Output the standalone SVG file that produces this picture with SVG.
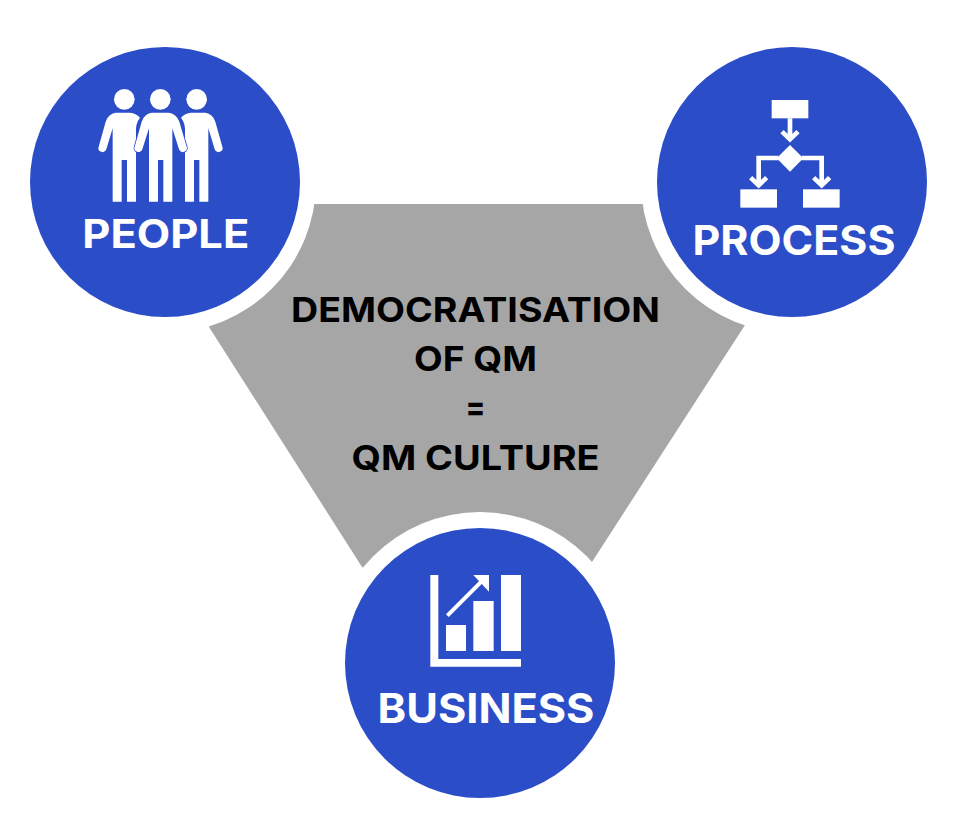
<svg xmlns="http://www.w3.org/2000/svg" width="963" height="820" viewBox="0 0 963 820">
<style>
.c{fill:#2b4dc8}
.r{fill:#fff}
.i{fill:#fff}
.s{fill:none;stroke:#fff}
text{font-family:Inter,"Liberation Sans",sans-serif;font-weight:700;text-anchor:middle;font-size:34.5px}
.l{fill:#fff;font-size:39px}
.b{font-size:41.5px}
.m{fill:#000}
</style>
<rect width="963" height="820" fill="#fff"/>
<g id="center">
<polygon points="250,204 705,204 745,325 592,562 480,640 362,567 209,327" fill="#a6a6a6"/>
<circle class="r" cx="165" cy="182" r="151"/>
<circle class="r" cx="792" cy="182" r="151"/>
<circle class="r" cx="480" cy="663" r="151"/>
<text class="m" x="475.500" y="321.700" textLength="369" lengthAdjust="spacingAndGlyphs">DEMOCRATISATION</text>
<text class="m" x="475.500" y="370.700" textLength="123" lengthAdjust="spacingAndGlyphs">OF QM</text>
<text class="m" x="475.500" y="418.500" textLength="20" lengthAdjust="spacingAndGlyphs">=</text>
<text class="m" x="475.500" y="469.500" textLength="248" lengthAdjust="spacingAndGlyphs">QM CULTURE</text>
</g>
<g id="people">
<circle class="c" cx="165" cy="182" r="135"/>
<g transform="translate(80 70) scale(.33333)">
<circle class="i" cx="133" cy="88" r="31"/><circle class="i" cx="241" cy="88" r="31"/><circle class="i" cx="350" cy="88" r="31"/>
<path id="side" class="i" d="M107 128H150Q168 130 180 143Q166 160 168 190V395H141V270H125V395H98V175L79 238a12 12 0 0 1-23-8L77 155Q84 132 107 128Z"/>
<use href="#side" transform="matrix(-1 0 0 1 483 0)"/>
<path class="i" stroke="#2b4dc8" stroke-width="5" paint-order="stroke" d="M215 128H267Q290 132 298 155L320 230a12 12 0 0 1-23 8L277 175V395H250V270H234V395H207V175L187 238a12 12 0 0 1-23-8L185 155Q192 132 215 128Z"/>
</g>
<text class="l" x="165.800" y="248" textLength="167" lengthAdjust="spacingAndGlyphs">PEOPLE</text>
</g>
<g id="process">
<circle class="c" cx="792" cy="182" r="135"/>
<g transform="translate(680 80) scale(.33333)">
<rect class="i" x="275" y="60" width="110" height="55"/>
<rect class="i" x="181" y="328" width="110" height="55"/>
<rect class="i" x="369" y="328" width="110" height="55"/>
<polygon class="i" points="330,195 370,235 330,275 290,235"/>
<path class="s" stroke-width="14" d="M330 115V178M306 155L330 178L354 155M295 234H236V316M212 293L236 316L260 293M365 234H425V316M401 293L425 316L449 293"/>
</g>
<text class="l b" x="794" y="255" textLength="203" lengthAdjust="spacingAndGlyphs">PROCESS</text>
</g>
<g id="business">
<circle class="c" cx="480" cy="663" r="135"/>
<g transform="translate(370 560) scale(.33333)">
<path class="i" d="M181 45H205V297H453V320H181Z"/>
<rect class="i" x="228" y="195" width="60" height="78"/>
<rect class="i" x="310" y="123" width="61" height="150"/>
<rect class="i" x="393" y="45" width="60" height="228"/>
<path class="s" stroke-width="12" d="M232 167L340 59"/>
<polygon class="i" points="310,45 357,45 357,95"/>
</g>
<text class="l b" x="486" y="723" textLength="217" lengthAdjust="spacingAndGlyphs">BUSINESS</text>
</g>
<g id="connectors"/>
</svg>
